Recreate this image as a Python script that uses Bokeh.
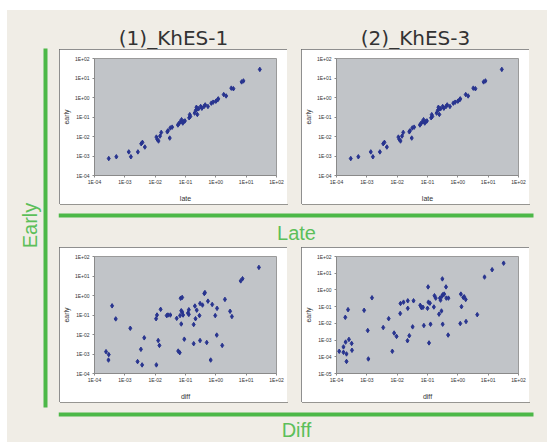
import numpy as np
from bokeh.plotting import figure
from bokeh.layouts import row, column
from bokeh.models import Range1d, FixedTicker, CustomJSTickFormatter, Spacer
from bokeh.core.properties import value
from bokeh.embed import file_html
from bokeh.resources import INLINE

# ---------------- data (log10 exponents) ----------------
titles = ["(1)_KhES-1", "(2)_KhES-3"]
row_labels = ["Late", "Diff"]
side_label = "Early"

tick_values = [1e-5, 1e-4, 1e-3, 1e-2, 1e-1, 1e0, 1e1, 1e2]
tick_labels = ["1E-05", "1E-04", "1E-03", "1E-02", "1E-01", "1E+00", "1E+01", "1E+02"]

p1_late_exp = [-3.53, -3.28, -2.87, -2.80, -2.57, -2.46, -2.42, -2.34, -1.96, -1.93, -1.89, -1.84,
               -1.80, -1.60, -1.58, -1.52, -1.50, -1.44, -1.25, -1.22, -1.17, -1.13, -1.09, -1.06,
               -1.02, -0.88, -0.86, -0.84, -0.70, -0.66, -0.64, -0.64, -0.61, -0.57, -0.50, -0.46,
               -0.39, -0.35, -0.26, -0.15, -0.09, 0.00, 0.06, 0.08, 0.26, 0.34, 0.51, 0.58, 0.85,
               0.91, 1.45]
p1_early_exp = [-3.13, -3.04, -2.79, -3.04, -2.79, -2.37, -2.30, -2.54, -2.03, -2.15, -2.23, -1.98,
                -1.79, -1.76, -1.71, -2.08, -1.56, -1.52, -1.41, -1.34, -1.25, -1.14, -1.31, -1.24,
                -1.20, -1.04, -0.88, -0.97, -0.80, -0.66, -0.50, -0.63, -0.87, -0.58, -0.46, -0.55,
                -0.46, -0.38, -0.46, -0.29, -0.24, -0.19, -0.12, -0.07, 0.15, 0.08, 0.48, 0.45, 0.80,
                0.85, 1.44]

p2_late_exp = [-3.53, -3.28, -2.87, -2.80, -2.57, -2.46, -2.42, -2.34, -1.96, -1.93, -1.89, -1.84,
               -1.80, -1.60, -1.58, -1.52, -1.50, -1.44, -1.25, -1.22, -1.17, -1.13, -1.09, -1.06,
               -1.02, -0.88, -0.86, -0.84, -0.70, -0.66, -0.64, -0.64, -0.61, -0.57, -0.50, -0.46,
               -0.39, -0.35, -0.26, -0.15, -0.09, 0.00, 0.06, 0.08, 0.26, 0.34, 0.51, 0.58, 0.85,
               0.91, 1.45]
p2_early_exp = [-3.13, -3.04, -2.79, -3.04, -2.79, -2.37, -2.30, -2.54, -2.03, -2.15, -2.23, -1.98,
                -1.79, -1.76, -1.71, -2.08, -1.56, -1.52, -1.41, -1.34, -1.25, -1.14, -1.31, -1.24,
                -1.20, -1.04, -0.88, -0.97, -0.80, -0.66, -0.50, -0.63, -0.87, -0.58, -0.46, -0.55,
                -0.46, -0.38, -0.46, -0.29, -0.24, -0.19, -0.12, -0.07, 0.15, 0.08, 0.48, 0.45, 0.80,
                0.85, 1.44]

p3_diff_exp = [-3.62, -3.53, -3.54, -3.42, -3.30, -2.82, -2.58, -2.47, -2.43, -2.36, -1.97, -1.94,
               -1.96, -1.90, -1.86, -1.82, -1.62, -1.58, -1.50, -1.29, -1.24, -1.19, -1.18, -1.16,
               -1.11, -1.14, -1.14, -1.11, -1.08, -1.04, -0.92, -0.89, -0.89, -0.73, -0.73, -0.69,
               -0.67, -0.63, -0.54, -0.52, -0.52, -0.44, -0.38, -0.36, -0.30, -0.26, -0.17, -0.12,
               -0.02, 0.03, 0.04, 0.21, 0.30, 0.47, 0.53, 0.82, 0.88, 1.42]
p3_early_exp = [-2.88, -3.03, -3.31, -0.53, -1.20, -1.68, -3.39, -2.76, -3.56, -2.17, -1.19, -1.00,
                -3.56, -2.31, -2.56, -0.71, -1.03, -1.00, -1.00, -1.17, -2.85, -2.93, -1.03, -0.14,
                -0.10, -0.78, -1.46, -0.85, -1.00, -2.24, -0.90, -0.73, -0.97, -1.49, -2.47, -0.54,
                -1.19, -0.75, -1.03, -2.31, -0.41, -0.49, 0.10, 0.15, -2.41, -0.29, -3.31, -0.46,
                -1.03, -2.03, -0.66, -2.56, -0.20, -0.81, -1.08, 0.75, 0.86, 1.44]

p4_diff_exp = [-3.91, -3.77, -3.77, -3.71, -3.70, -3.67, -3.67, -3.62, -3.59, -3.50, -3.49, -3.09,
               -2.97, -2.95, -2.83, -2.46, -2.28, -2.16, -2.10, -2.02, -1.90, -1.89, -1.79, -1.66,
               -1.65, -1.65, -1.60, -1.49, -1.46, -1.24, -1.20, -1.15, -1.12, -1.00, -0.98, -0.97,
               -0.95, -0.92, -0.90, -0.79, -0.77, -0.73, -0.62, -0.59, -0.57, -0.54, -0.52, -0.51,
               -0.50, -0.50, -0.45, -0.39, -0.38, -0.32, -0.31, 0.08, 0.10, 0.12, 0.18, 0.21, 0.26,
               0.27, 0.64, 0.88, 1.13, 1.51]
p4_early_exp = [-3.67, -3.41, -3.73, -1.64, -3.12, -3.83, -4.28, -1.18, -2.96, -3.20, -3.61, -1.22,
                -2.43, -4.13, -0.47, -2.25, -1.72, -3.67, -2.58, -2.78, -1.41, -0.81, -0.73, -3.04,
                -0.65, -1.10, -2.74, -2.21, -0.65, -0.92, -1.06, -1.04, -2.13, -1.10, 0.18, -0.73,
                -3.17, -0.79, -2.05, -1.02, -0.35, -0.49, -1.45, -0.49, -0.61, -1.26, -0.37, 0.66,
                -0.29, -2.05, -0.25, 0.18, -0.49, -2.70, -0.49, -2.01, -0.25, -1.00, -0.45, -0.41,
                -0.57, -1.89, -1.48, 0.77, 1.21, 1.60]

# ---------------- styles ----------------
BEIGE = "#f0ede6"
GREEN = "#4cb848"
TEXT_GREEN = "#5cbf5a"
PLOT_GRAY = "#c1c4c8"
DOT = "#28348f"
FONT = "Liberation Sans"


def deco(w, h):
    p = figure(width=w, height=h, x_range=Range1d(0, w), y_range=Range1d(0, h),
               toolbar_location=None, output_backend="svg", min_border=0,
               x_axis_location=None, y_axis_location=None,
               background_fill_color=BEIGE, border_fill_color=BEIGE,
               outline_line_color=None)
    p.grid.visible = False
    return p


def panel(xs, ys, xlabel, ymin):
    p = figure(width=228, height=155, x_axis_type="log", y_axis_type="log",
               x_range=Range1d(1e-4, 1e2), y_range=Range1d(ymin, 1e2),
               toolbar_location=None, output_backend="svg",
               min_border_left=35, min_border_right=11, min_border_top=9, min_border_bottom=26,
               background_fill_color=PLOT_GRAY, border_fill_color="white",
               outline_line_color="#9a9a9a",
               styles={"outline": "1px solid #6a6a6a", "outline-offset": "-1px",
                       "box-shadow": "1px 1px 0 #3c3c3c"})
    p.grid.visible = False
    fmt = CustomJSTickFormatter(args=dict(vals=tick_values, labs=tick_labels), code="""
        for (let i = 0; i < vals.length; i++) {
            if (Math.abs(Math.log10(vals[i]) - Math.log10(tick)) < 1e-6) return labs[i];
        }
        return "";
    """)
    for ax in (p.xaxis[0], p.yaxis[0]):
        ax.ticker = FixedTicker(ticks=tick_values, minor_ticks=[])
        ax.formatter = fmt
        ax.major_label_text_font = FONT
        ax.major_label_text_font_size = "5px"
        ax.major_label_text_color = "#333333"
        ax.axis_label_text_font = FONT
        ax.axis_label_text_font_size = "7px"
        ax.axis_label_text_font_style = "normal"
        ax.axis_label_text_color = "#333333"
        ax.axis_line_color = "#8a8a8a"
        ax.major_tick_line_color = "#8a8a8a"
        ax.major_tick_in = 0
        ax.major_tick_out = 2
        ax.minor_tick_line_color = None
    p.xaxis.axis_label = xlabel
    p.yaxis.axis_label = "early"
    p.xaxis.major_label_standoff = 1
    p.xaxis.axis_label_standoff = 7
    p.yaxis.major_label_standoff = 3
    p.yaxis.axis_label_standoff = 2
    p.scatter(x=xs, y=ys, marker="diamond", size=4.5, color=DOT, line_color=DOT)
    return p


p1 = panel(10 ** np.array(p1_late_exp), 10 ** np.array(p1_early_exp), "late", 1e-4)
p2 = panel(10 ** np.array(p2_late_exp), 10 ** np.array(p2_early_exp), "late", 1e-4)
p3 = panel(10 ** np.array(p3_diff_exp), 10 ** np.array(p3_early_exp), "diff", 1e-4)
p4 = panel(10 ** np.array(p4_diff_exp), 10 ** np.array(p4_early_exp), "diff", 1e-5)

# left strip: "Early" + vertical green bar
left = deco(51, 432)
left.quad(left=[36], right=[40], bottom=[35], top=[394], color=GREEN, line_color=None)
left.text(x=[22], y=[217], text=[side_label], angle=np.pi / 2, text_align="center",
          text_baseline="middle", text_font=value(FONT), text_font_size="20px",
          text_color=TEXT_GREEN)

# title strip
top = deco(489, 39)
top.text(x=[115, 357], y=[12, 12], text=titles, text_align="center", text_baseline="middle",
         text_font=value("DejaVu Sans"), text_font_size="20px", text_color="#333333")

# middle strip: green line + Late
mid = deco(489, 43)
mid.quad(left=[0], right=[475], bottom=[30], top=[34], color=GREEN, line_color=None)
mid.text(x=[238], y=[14.5], text=[row_labels[0]], text_align="center", text_baseline="middle",
         text_font=value(FONT), text_font_size="20px", text_color=TEXT_GREEN)

# bottom strip: green line + Diff
bot = deco(489, 40)
bot.quad(left=[0], right=[475], bottom=[26], top=[30], color=GREEN, line_color=None)
bot.text(x=[238], y=[13], text=[row_labels[1]], text_align="center", text_baseline="middle",
         text_font=value(FONT), text_font_size="20px", text_color=TEXT_GREEN)


def sp(w, h):
    return Spacer(width=w, height=h, styles={"background-color": BEIGE})


row1 = row(sp(1, 155), p1, sp(14, 155), p2, sp(18, 155), spacing=0)
row2 = row(sp(1, 155), p3, sp(14, 155), p4, sp(18, 155), spacing=0)
right = column(top, row1, mid, row2, bot, spacing=0)
main = row(left, right, spacing=0, styles={"background-color": BEIGE})
root = column(Spacer(width=547, height=10),
              row(Spacer(width=7, height=432), main, spacing=0),
              spacing=0)

html = file_html(root, INLINE)
open("out.html", "w").write(html)
